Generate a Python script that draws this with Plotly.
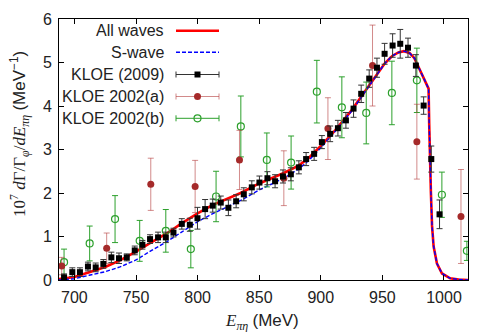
import plotly.graph_objects as go

# model curves
all_E = [687.5, 695, 700, 712, 725, 737, 750, 762, 775, 787, 800, 812, 825, 835,
         850, 862, 870, 882, 890, 900, 912, 925, 937, 945, 952, 958, 963, 967.5,
         972, 976, 981, 985, 987.5, 988.0, 988.5, 989.4, 990.3, 991.6, 994.3,
         998.4, 1005, 1012, 1019.5]
all_y = [0.02, 0.05, 0.07, 0.18, 0.30, 0.45, 0.65, 0.86, 1.07, 1.30, 1.53, 1.72,
         1.88, 2.00, 2.22, 2.36, 2.46, 2.63, 2.80, 3.08, 3.45, 3.90, 4.38, 4.72,
         4.98, 5.15, 5.23, 5.26, 5.22, 5.10, 4.80, 4.58, 4.40, 3.60, 2.80, 2.00,
         1.25, 0.77, 0.38, 0.15, 0.04, 0.01, 0.0]
swave_y = [0.0, 0.02, 0.03, 0.11, 0.19, 0.30, 0.46, 0.67, 0.88, 1.10, 1.34, 1.52,
           1.69, 1.83, 2.07, 2.24, 2.34, 2.55, 2.74, 3.04, 3.43, 3.88, 4.37, 4.72,
           4.98, 5.15, 5.23, 5.26, 5.22, 5.10, 4.80, 4.58, 4.40, 3.60, 2.80, 2.00,
           1.25, 0.77, 0.38, 0.15, 0.04, 0.01, 0.0]

# KLOE (2009)
k09_E = [691.6, 698.3, 704.5, 711.0, 717.3, 723.5, 730.0, 736.2, 742.5, 749.0,
         755.2, 761.4, 767.9, 774.2, 780.4, 787.2, 793.7, 799.9, 806.1, 812.3,
         818.8, 825.0, 831.3, 837.5, 844.0, 850.2, 856.7, 862.9, 869.3, 875.7,
         882.2, 888.1, 894.6, 900.9, 907.6, 913.9, 920.4, 926.6, 932.8, 939.3,
         945.6, 951.8, 958.3, 964.5, 970.8, 977.2, 983.5, 989.7, 996.4]
k09_y = [0.06, 0.18, 0.18, 0.31, 0.29, 0.37, 0.52, 0.50, 0.52, 0.68,
         0.81, 0.94, 0.98, 0.98, 1.09, 1.29, 1.27, 1.42, 1.63, 1.71,
         1.78, 1.66, 1.81, 1.97, 2.13, 2.24, 2.34, 2.27, 2.38, 2.43,
         2.59, 2.78, 2.90, 3.17, 3.36, 3.49, 3.67, 3.94, 4.28, 4.63,
         4.88, 5.20, 5.39, 5.43, 5.34, 4.93, 4.01, 2.78, 1.51]
k09_err = [0.08, 0.10, 0.10, 0.10, 0.10, 0.10, 0.12, 0.12, 0.08, 0.10,
           0.10, 0.10, 0.12, 0.12, 0.10, 0.12, 0.15, 0.25, 0.22, 0.15,
           0.15, 0.18, 0.15, 0.15, 0.15, 0.15, 0.15, 0.15, 0.15, 0.15,
           0.15, 0.15, 0.15, 0.15, 0.18, 0.18, 0.18, 0.20, 0.20, 0.20,
           0.22, 0.24, 0.27, 0.33, 0.22, 0.25, 0.20, 0.30, 0.33]

# KLOE 2002(a)
k02a_E = [689.7, 726.2, 762.0, 798.0, 834.0, 870.0, 905.8, 942.0, 978.0, 1013.8]
k02a_y = [0.32, 0.73, 2.20, 2.15, 2.76, 2.34, 3.48, 4.93, 3.18, 1.46]
k02a_err = [0.20, 0.35, 0.60, 0.60, 0.68, 0.63, 0.71, 0.93, 0.86, 1.08]

# KLOE 2002(b)
k02b_E = [691.6, 712.4, 733.0, 753.0, 774.2, 794.5, 815.0, 835.1, 856.2,
          875.9, 896.8, 917.1, 936.9, 957.7, 978.0, 998.3, 1018.6]
k02b_y = [0.41, 0.84, 1.40, 0.90, 1.13, 0.71, 1.92, 3.53, 2.76,
          2.70, 4.33, 3.97, 3.84, 4.30, 4.59, 1.96, 0.67]
k02b_err = [0.30, 0.40, 0.54, 0.47, 0.49, 0.43, 0.58, 0.70, 0.62,
            0.61, 0.72, 0.70, 0.71, 0.73, 0.74, 0.52, 0.22]

legend_names = ['All waves', 'S-wave', 'KLOE (2009)', 'KLOE 2002(a)', 'KLOE 2002(b)']

RED = '#ff0000'
BLUE = '#0000ff'
BROWN = '#a52a2a'
BROWN_ERR = 'rgba(180,60,60,0.6)'
GREEN = '#2ca02c'
SANS = 'Liberation Sans, Arial, sans-serif'
SERIF = 'Liberation Serif, Times New Roman, serif'

fig = go.Figure()

fig.add_trace(go.Scatter(x=all_E, y=all_y, mode='lines',
                         line=dict(color=RED, width=2.6), showlegend=False))
fig.add_trace(go.Scatter(x=all_E, y=swave_y, mode='lines',
                         line=dict(color=BLUE, width=1.4, dash='4px,2px'), showlegend=False))

fig.add_trace(go.Scatter(x=k02b_E, y=k02b_y, mode='markers',
                         marker=dict(symbol='circle-open', size=7, color=GREEN, line=dict(width=1.2)),
                         error_y=dict(type='data', array=k02b_err, width=3, thickness=1, color=GREEN),
                         showlegend=False))
fig.add_trace(go.Scatter(x=k02a_E, y=k02a_y, mode='markers',
                         marker=dict(symbol='circle', size=7, color=BROWN),
                         error_y=dict(type='data', array=k02a_err, width=3, thickness=1, color=BROWN_ERR),
                         showlegend=False))
fig.add_trace(go.Scatter(x=k09_E, y=k09_y, mode='markers',
                         marker=dict(symbol='square', size=6, color='black'),
                         error_y=dict(type='data', array=k09_err, width=3, thickness=1, color='#333333'),
                         showlegend=False))

# hand-made legend (text left, sample right) on an overlay axis in pixel units
rows = [11.7, 33.3, 55.5, 77.5, 99.3]
sx0, sx1, sxc = 117, 160, 138.5
fig.add_trace(go.Scatter(x=[sx0, sx1], y=[rows[0]] * 2, mode='lines', xaxis='x2', yaxis='y2',
                         line=dict(color=RED, width=2.6), showlegend=False))
fig.add_trace(go.Scatter(x=[sx0, sx1], y=[rows[1]] * 2, mode='lines', xaxis='x2', yaxis='y2',
                         line=dict(color=BLUE, width=1.4, dash='4px,2px'), showlegend=False))
fig.add_trace(go.Scatter(x=[sxc], y=[rows[2]], mode='markers', xaxis='x2', yaxis='y2',
                         marker=dict(symbol='square', size=6, color='black'),
                         error_x=dict(type='constant', value=sxc - sx0, width=3, thickness=1, color='#333333'),
                         showlegend=False))
fig.add_trace(go.Scatter(x=[sxc], y=[rows[3]], mode='markers', xaxis='x2', yaxis='y2',
                         marker=dict(symbol='circle', size=7, color=BROWN),
                         error_x=dict(type='constant', value=sxc - sx0, width=3, thickness=1, color=BROWN_ERR),
                         showlegend=False))
fig.add_trace(go.Scatter(x=[sxc], y=[rows[4]], mode='markers', xaxis='x2', yaxis='y2',
                         marker=dict(symbol='circle-open', size=7, color=GREEN, line=dict(width=1.2)),
                         error_x=dict(type='constant', value=sxc - sx0, width=3, thickness=1, color=GREEN),
                         showlegend=False))

for name, ry in zip(legend_names, rows):
    fig.add_annotation(x=107, y=ry, xref='x2', yref='y2', text=name, showarrow=False,
                       xanchor='right', yanchor='middle',
                       font=dict(family=SANS, size=16, color='#222222'))

# axis titles as annotations (page body adds an 8px offset, so the figure is 8px smaller)
fig.add_annotation(x=0.496, y=-0.16, xref='paper', yref='paper', showarrow=False,
                   xanchor='center', yanchor='middle',
                   text='<i>E</i><sub><i>πη</i></sub> <span style="font-family:Liberation Sans">(MeV)</span>',
                   font=dict(family=SERIF, size=17, color='#222222'))
fig.add_annotation(x=-0.095, y=0.56, xref='paper', yref='paper', showarrow=False,
                   xanchor='center', yanchor='middle', textangle=-90,
                   text='10<sup>7</sup> <i>d</i>Γ/Γ<sub><i>φ</i></sub>/<i>dE</i><sub><i>πη</i></sub> '
                        '<span style="font-family:Liberation Sans">(MeV<sup>−1</sup>)</span>',
                   font=dict(family=SERIF, size=17, color='#222222'))

fig.update_layout(
    width=490, height=324,
    margin=dict(l=51, r=30, t=11, b=52),
    paper_bgcolor='white', plot_bgcolor='white',
    font=dict(family=SANS, size=16, color='#222222'),
    xaxis=dict(range=[687.5, 1019.5], tickvals=[700, 750, 800, 850, 900, 950, 1000],
               ticks='inside', ticklen=5, tickcolor='black', showline=True, linecolor='black',
               linewidth=1, mirror='ticks', showgrid=False, zeroline=False,
               ticklabelstandoff=3, tickfont=dict(size=16), automargin=False),
    yaxis=dict(range=[0, 6], tickvals=[0, 1, 2, 3, 4, 5, 6],
               ticks='inside', ticklen=5, tickcolor='black', showline=True, linecolor='black',
               linewidth=1, mirror='ticks', showgrid=False, zeroline=False,
               ticklabelstandoff=3, tickfont=dict(size=16), automargin=False),
    xaxis2=dict(range=[0, 409], overlaying='x', anchor='y2', visible=False),
    yaxis2=dict(range=[261, 0], overlaying='y', anchor='x2', visible=False),
)

fig.write_html("out.html")
